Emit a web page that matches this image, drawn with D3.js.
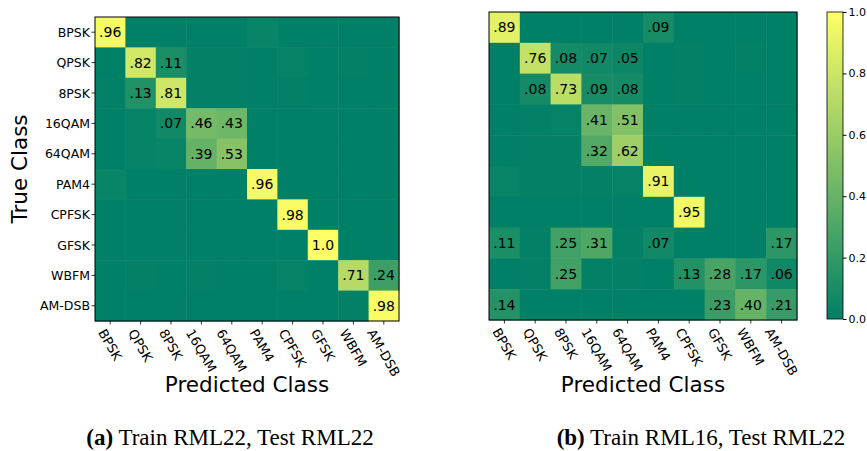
<!DOCTYPE html>
<html>
<head>
<meta charset="utf-8">
<script src="https://cdn.jsdelivr.net/npm/d3@7"></script>
<style>
  body { margin: 0; background: #fff; }
  svg { display: block; }
  text { font-family: "DejaVu Sans", sans-serif; }
  .cap { font-family: "Liberation Serif", "Times New Roman", serif; }
</style>
</head>
<body>
<svg id="chart" width="867" height="451"></svg>
<script>
var classes = ["BPSK", "QPSK", "8PSK", "16QAM", "64QAM", "PAM4", "CPFSK", "GFSK", "WBFM", "AM-DSB"];

// rows = true class, columns = predicted class
var trainRml22 = [
  [.96, 0, 0, 0, 0, .03, 0, 0, 0, 0],
  [0, .82, .11, .01, .01, 0, .02, 0, .01, 0],
  [.01, .13, .81, .01, .01, 0, .01, 0, 0, 0],
  [0, .02, .07, .46, .43, 0, 0, 0, 0, 0],
  [0, .02, .03, .39, .53, 0, 0, 0, 0, 0],
  [.03, 0, 0, 0, 0, .96, 0, 0, 0, 0],
  [0, 0, 0, 0, 0, 0, .98, 0, 0, 0],
  [0, 0, 0, 0, 0, 0, 0, 1.0, 0, 0],
  [0, .01, 0, .01, 0, 0, .02, 0, .71, .24],
  [0, 0, 0, 0, 0, 0, 0, 0, .01, .98]
];

var trainRml16 = [
  [.89, 0, 0, 0, 0, .09, 0, 0, 0, 0],
  [0, .76, .08, .07, .05, 0, .01, 0, .01, 0],
  [0, .08, .73, .09, .08, 0, .01, 0, 0, 0],
  [0, .01, .02, .41, .51, 0, 0, 0, 0, 0],
  [0, .01, .01, .32, .62, 0, 0, 0, 0, 0],
  [.03, .01, .01, .01, .02, .91, 0, 0, 0, 0],
  [0, 0, 0, 0, 0, 0, .95, 0, 0, 0],
  [.11, .01, .25, .31, .01, .07, 0, 0, 0, .17],
  [0, .01, .25, .01, .01, 0, .13, .28, .17, .06],
  [.14, 0, 0, 0, 0, 0, 0, .23, .40, .21]
];

var colorTicks = [0, 0.2, 0.4, 0.6, 0.8, 1.0];

var svg = d3.select("#chart");

// matplotlib "summer" colormap
var color = d3.scaleLinear()
    .domain([0, 1])
    .range(["#008066", "#ffff66"])
    .interpolate(d3.interpolateRgb);

function fmt(v) {
  return v >= 1 ? "1.0" : d3.format(".2f")(v).replace(/^0/, "");
}

function drawMatrix(data, left, top, size, showY) {
  var x = d3.scaleBand().domain(d3.range(classes.length)).range([left, left + size]);
  var y = d3.scaleBand().domain(d3.range(classes.length)).range([top, top + size]);
  var g = svg.append("g");

  var cells = [];
  data.forEach(function(row, i) {
    row.forEach(function(v, j) { cells.push({ r: i, c: j, v: v }); });
  });

  g.selectAll("rect.cell")
    .data(cells)
    .join("rect")
      .attr("class", "cell")
      .attr("x", function(d) { return x(d.c); })
      .attr("y", function(d) { return y(d.r); })
      .attr("width", x.bandwidth() + 0.5)
      .attr("height", y.bandwidth() + 0.5)
      .attr("fill", function(d) { return color(d.v); });

  g.selectAll("text.val")
    .data(cells.filter(function(d) { return d.v >= 0.05; }))
    .join("text")
      .attr("class", "val")
      .attr("x", function(d) { return x(d.c) + x.bandwidth() / 2; })
      .attr("y", function(d) { return y(d.r) + y.bandwidth() / 2; })
      .attr("dy", "0.36em")
      .attr("text-anchor", "middle")
      .attr("font-size", 14)
      .attr("fill", "#000")
      .text(function(d) { return fmt(d.v); });

  g.append("rect")
    .attr("x", left).attr("y", top)
    .attr("width", size).attr("height", size)
    .attr("fill", "none").attr("stroke", "#000").attr("stroke-width", 1);

  // x ticks
  var bottom = top + size;
  g.selectAll("line.xt")
    .data(d3.range(classes.length))
    .join("line")
      .attr("x1", function(d) { return x(d) + x.bandwidth() / 2; })
      .attr("x2", function(d) { return x(d) + x.bandwidth() / 2; })
      .attr("y1", bottom).attr("y2", bottom + 3.5)
      .attr("stroke", "#000").attr("stroke-width", 0.8);

  var ang = 60 * Math.PI / 180, c = Math.cos(ang);
  var fs = 13;
  g.selectAll("text.xl")
    .data(classes)
    .join("text")
      .attr("class", "xl")
      .attr("font-size", fs)
      .attr("dy", "0.36em")
      .text(function(d) { return d; })
      .attr("transform", function(d, i) {
        var L = this.getComputedTextLength();
        var tx = x(i) + x.bandwidth() / 2 - L * c / 2;
        var ty = bottom + 6 + (fs / 2) * c;
        return "translate(" + tx + "," + ty + ") rotate(60)";
      });

  if (showY) {
    g.selectAll("line.yt")
      .data(d3.range(classes.length))
      .join("line")
        .attr("x1", left - 3.5).attr("x2", left)
        .attr("y1", function(d) { return y(d) + y.bandwidth() / 2; })
        .attr("y2", function(d) { return y(d) + y.bandwidth() / 2; })
        .attr("stroke", "#000").attr("stroke-width", 0.8);
    g.selectAll("text.yl")
      .data(classes)
      .join("text")
        .attr("class", "yl")
        .attr("x", left - 5)
        .attr("y", function(d, i) { return y(i) + y.bandwidth() / 2; })
        .attr("dy", "0.36em")
        .attr("text-anchor", "end")
        .attr("font-size", 12.5)
        .text(function(d) { return d; });
    g.append("text")
      .attr("transform", "translate(" + 27 + "," + (top + size / 2) + ") rotate(-90)")
      .attr("text-anchor", "middle")
      .attr("font-size", 21.5)
      .text("True Class");
  }

  g.append("text")
    .attr("x", left + size / 2)
    .attr("y", 392)
    .attr("text-anchor", "middle")
    .attr("font-size", 21.5)
    .text("Predicted Class");
}

drawMatrix(trainRml22, 95, 17, 304, true);
drawMatrix(trainRml16, 489, 12, 308, false);

// colorbar
var cbX = 827, cbW = 16, cbTop = 12, cbBot = 319;
var cbScale = d3.scaleLinear().domain([0, 1]).range([cbBot, cbTop]);
var defs = svg.append("defs");
var grad = defs.append("linearGradient")
    .attr("id", "cbGrad")
    .attr("x1", 0).attr("y1", 1).attr("x2", 0).attr("y2", 0);
grad.selectAll("stop")
  .data([0, 1])
  .join("stop")
    .attr("offset", function(d) { return d; })
    .attr("stop-color", function(d) { return color(d); });
svg.append("rect")
  .attr("x", cbX).attr("y", cbTop)
  .attr("width", cbW).attr("height", cbBot - cbTop)
  .attr("fill", "url(#cbGrad)")
  .attr("stroke", "#000").attr("stroke-width", 0.8);

var cbAxis = svg.append("g")
  .attr("transform", "translate(" + (cbX + cbW) + ",0)")
  .call(d3.axisRight(cbScale).tickValues(colorTicks).tickFormat(d3.format(".1f")).tickSize(3.5).tickPadding(2));
cbAxis.select(".domain").remove();
cbAxis.selectAll("text").attr("font-size", 11).attr("font-family", "DejaVu Sans, sans-serif");

// captions
var cap1 = svg.append("text").attr("class", "cap")
  .attr("x", 230).attr("y", 445).attr("text-anchor", "middle").attr("font-size", 23);
cap1.append("tspan").attr("font-weight", "bold").text("(a)");
cap1.append("tspan").text(" Train RML22, Test RML22");

var cap2 = svg.append("text").attr("class", "cap")
  .attr("x", 701).attr("y", 445).attr("text-anchor", "middle").attr("font-size", 23);
cap2.append("tspan").attr("font-weight", "bold").text("(b)");
cap2.append("tspan").text(" Train RML16, Test RML22");
</script>
</body>
</html>
